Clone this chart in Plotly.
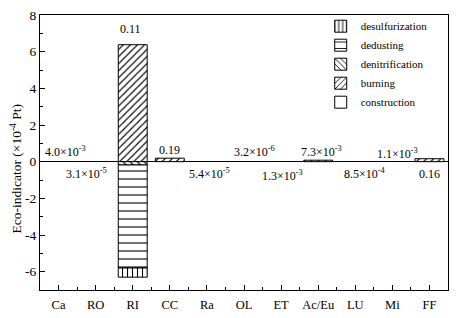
import plotly.graph_objects as go

categories = ["Ca", "RO", "RI", "CC", "Ra", "OL", "ET", "Ac/Eu", "LU", "Mi", "FF"]
construction = [None, None, None, None, None, None, None, None, None, None, None]
burning = [None, None, 6.38, 0.19, None, None, None, 0.08, None, None, 0.16]
denitrification = [None, None, -0.18, None, None, None, None, None, None, None, None]
dedusting = [None, None, -5.62, None, None, None, None, None, None, None, None]
desulfurization = [None, None, -0.5, None, None, None, None, None, None, None, None]

y_tickvals = [-6, -4, -2, 0, 2, 4, 6, 8]
y_ticktext = ["-6", "-4", "-2", "0", "2", "4", "6", "8"]

label_texts = ["4.0×10<sup>-3</sup>", "3.1×10<sup>-5</sup>", "0.11", "0.19", "5.4×10<sup>-5</sup>",
               "3.2×10<sup>-6</sup>", "1.3×10<sup>-3</sup>", "7.3×10<sup>-3</sup>", "8.5×10<sup>-4</sup>",
               "1.1×10<sup>-3</sup>", "0.16"]
label_y = [0.55, -0.65, 7.25, 0.65, -0.65, 0.55, -0.75, 0.55, -0.65, 0.45, -0.65]
label_dx = [0.18, -0.25, -0.07, 0.0, 0.08, 0.28, 0.05, 0.1, 0.27, 0.15, 0.0]

FONT = "Liberation Serif, Times New Roman, serif"

series = [
    ("construction", construction, ""),
    ("burning", burning, "/"),
    ("denitrification", denitrification, "\\"),
    ("dedusting", dedusting, "-"),
    ("desulfurization", desulfurization, "|"),
]
pattern_size = {"": 6, "/": 5, "\\": 5, "-": 8, "|": 5}

fig = go.Figure()
for name, vals, shape in series:
    sz = pattern_size[shape]
    fig.add_trace(go.Bar(
        x=categories, y=vals, name=name,
        marker=dict(color="white", line=dict(color="black", width=1),
                    pattern=dict(shape=shape, fgcolor="black", bgcolor="white",
                                 size=sz, solidity=1.1 / sz, fillmode="replace")),
    ))

for i, (t, yv, dx) in enumerate(zip(label_texts, label_y, label_dx)):
    fig.add_annotation(x=i + dx, y=yv, text=t, showarrow=False, xref="x", yref="y",
                       font=dict(family=FONT, size=12, color="black"))

fig.add_annotation(x=-0.06, y=0.44, xref="paper", yref="paper", textangle=-90,
                   xanchor="center", yanchor="middle",
                   text="Eco-indicator (×10<sup>-4</sup> Pt)", showarrow=False,
                   font=dict(family=FONT, size=13.5, color="black"))

fig.update_layout(
    width=460, height=318,
    margin=dict(l=40, r=12, t=13, b=28),
    paper_bgcolor="white", plot_bgcolor="white",
    barmode="relative", bargap=0.22,
    font=dict(family=FONT, size=13, color="black"),
    showlegend=True,
    legend=dict(x=0.688, y=1.012, xanchor="left", yanchor="top", traceorder="reversed",
                font=dict(family=FONT, size=11), bgcolor="rgba(0,0,0,0)",
                itemwidth=30, tracegroupgap=0),
)
fig.update_xaxes(
    type="category", range=[-0.5, 10.5], showline=True, linecolor="black", linewidth=1,
    mirror=True, ticks="inside", ticklen=5, tickcolor="black", automargin=False,
    ticklabelstandoff=3,
    minor=dict(ticks="inside", ticklen=3, tickcolor="black", tickmode="array",
               tickvals=[i + 0.5 for i in range(-1, 11)]),
    showgrid=False, tickfont=dict(family=FONT, size=12.5),
)
fig.update_yaxes(
    range=[-7, 8], tickmode="array", tickvals=y_tickvals, ticktext=y_ticktext,
    showline=True, linecolor="black", linewidth=1, automargin=False,
    mirror=True, ticks="inside", ticklen=5, tickcolor="black",
    minor=dict(ticks="inside", ticklen=3, tickcolor="black", tickmode="array",
               tickvals=[-7, -5, -3, -1, 1, 3, 5, 7]),
    showgrid=False, zeroline=True, zerolinecolor="black", zerolinewidth=1,
    tickfont=dict(family=FONT, size=13.5),
)

fig.write_html("out.html")
